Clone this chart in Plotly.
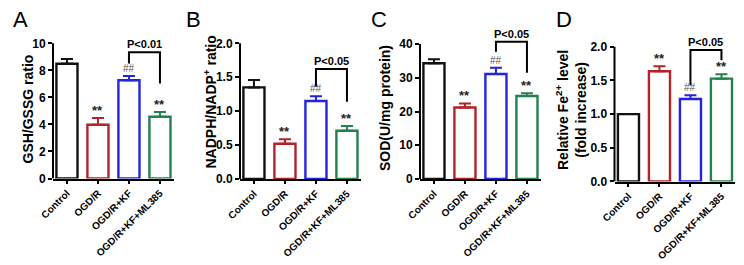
import plotly.graph_objects as go

W, H = 744, 265

categories = ["Control", "OGD/R", "OGD/R+KF", "OGD/R+KF+ML385"]
bar_colors = ["#111111", "#B3232B", "#2323E0", "#23804F"]
sig_marks = ["", "**", "##", "**"]

gsh_mean = [8.49, 3.97, 7.27, 4.57]
gsh_err = [0.34, 0.50, 0.32, 0.34]
nadph_mean = [1.35, 0.52, 1.15, 0.71]
nadph_err = [0.11, 0.065, 0.07, 0.07]
sod_mean = [34.3, 21.2, 31.1, 24.6]
sod_err = [1.2, 1.2, 1.9, 0.8]
fe_mean = [1.0, 1.635, 1.225, 1.526]
fe_err = [0.0, 0.075, 0.055, 0.064]

# bracket: [level, left drop end, right drop end]
gsh_bracket = [9.33, 8.51, 7.02]
nadph_bracket = [1.62, 1.36, 1.14]
sod_bracket = [40.7, 37.7, 31.5]
fe_bracket = [1.95, 1.43, 1.80]
p_labels = ["P<0.01", "P<0.05", "P<0.05", "P<0.05"]

y_titles = ["GSH/GSSG ratio", "NADPH/NADP<sup>+</sup> ratio", "SOD(U/mg protein)",
            "Relative Fe<sup>2+</sup> level<br>(fold increase)"]
y_ticks = [[0, 2, 4, 6, 8, 10], [0.0, 0.5, 1.0, 1.5, 2.0], [0, 10, 20, 30, 40], [0.0, 0.5, 1.0, 1.5, 2.0]]
y_fmt = ["d", ".1f", "d", ".1f"]
letters = ["A", "B", "C", "D"]

panels = [
    (gsh_mean, gsh_err, gsh_bracket),
    (nadph_mean, nadph_err, nadph_bracket),
    (sod_mean, sod_err, sod_bracket),
    (fe_mean, fe_err, fe_bracket),
]

# layout geometry (pixels)
axis_x_px = [53, 240, 420, 614.5]
y0_px = [178.5, 179, 179, 181.5]
ymax_px = [43.3, 43.3, 44, 46.7]
letter_x_px = [20, 193, 379, 564]
title_x_px = [27.5, 210, 385, 571]
title_y_px = [109, 102.5, 108, 110]
cat_px = 31.0
xr = [-0.45, 3.45]
top_factor = 1.08

FONT = "Liberation Sans, Arial, sans-serif"
fig = go.Figure()
shapes, annotations = [], []
layout = {}

for i, (mean, err, br) in enumerate(panels):
    n = "" if i == 0 else str(i + 1)
    xa, ya = "x" + n, "y" + n
    ymax = y_ticks[i][-1]
    for j, cat in enumerate(categories):
        fig.add_trace(go.Bar(
            x=[cat], y=[mean[j]], width=0.68, xaxis=xa, yaxis=ya,
            marker=dict(color="white", line=dict(color=bar_colors[j], width=2.4)),
            error_y=dict(type="data", symmetric=False, array=[err[j]], arrayminus=[0],
                         color=bar_colors[j], thickness=2, width=6, visible=err[j] > 0),
            showlegend=False, hoverinfo="skip"))
        if sig_marks[j]:
            is_star = sig_marks[j] == "**"
            annotations.append(dict(x=cat, y=mean[j] + err[j], xref=xa, yref=ya, text=sig_marks[j],
                                    showarrow=False, yanchor="bottom", yshift=-2 if is_star else 0,
                                    font=dict(family=FONT, size=13 if is_star else 10,
                                              color="#222222" if is_star else "#555555",
                                              weight="bold" if is_star else "normal")))
    # bracket between KF and KF+ML385
    fig.add_trace(go.Scatter(
        x=[categories[2], categories[2], categories[3], categories[3]],
        y=[br[1], br[0], br[0], br[2]], mode="lines", xaxis=xa, yaxis=ya,
        line=dict(color="black", width=2), showlegend=False, hoverinfo="skip"))
    annotations.append(dict(x=2.5, y=br[0], xref=xa, yref=ya, text=p_labels[i], showarrow=False,
                            yanchor="bottom", yshift=0,
                            font=dict(family=FONT, size=11, color="black", weight="bold")))
    # y axis line up to max tick
    shapes.append(dict(type="line", xref=xa + " domain", yref=ya, x0=0, x1=0, y0=0, y1=ymax,
                       line=dict(color="black", width=2)))
    # domains
    ppu = (y0_px[i] - ymax_px[i]) / ymax
    top_px = y0_px[i] - ppu * ymax * top_factor
    xd0 = axis_x_px[i] / W
    xd1 = (axis_x_px[i] + cat_px * (xr[1] - xr[0])) / W
    yd0 = (H - y0_px[i]) / H
    yd1 = (H - top_px) / H
    layout["xaxis" + n] = dict(domain=[xd0, xd1], anchor=ya, type="category", range=xr,
                               automargin=False,
                               showline=True, linewidth=2, linecolor="black", ticks="outside",
                               ticklen=3, tickwidth=1.5, tickcolor="black", tickangle=-45,
                               showgrid=False, zeroline=False,
                               tickfont=dict(family=FONT, size=10, color="black", weight="bold"))
    layout["yaxis" + n] = dict(domain=[yd0, yd1], anchor=xa, range=[0, ymax * top_factor],
                               automargin=False,
                               showline=False, ticks="outside", ticklen=4, tickwidth=2,
                               tickcolor="black", tickvals=y_ticks[i], tickformat=y_fmt[i],
                               showgrid=False, zeroline=False,
                               tickfont=dict(family=FONT, size=12, color="black", weight="bold"))
    # y-axis title
    annotations.append(dict(x=title_x_px[i] / W, y=(H - title_y_px[i]) / H, xref="paper", yref="paper",
                            text=y_titles[i], showarrow=False, textangle=-90,
                            xanchor="center", yanchor="middle",
                            font=dict(family=FONT, size=14, color="black", weight="bold")))
    annotations.append(dict(x=letter_x_px[i] / W, y=(H - 19.5) / H, xref="paper", yref="paper",
                            text=letters[i], showarrow=False, xanchor="center", yanchor="middle",
                            font=dict(family=FONT, size=22, color="black")))

fig.update_layout(width=W, height=H, margin=dict(l=0, r=0, t=0, b=0),
                  paper_bgcolor="white", plot_bgcolor="white", barmode="overlay",
                  shapes=shapes, annotations=annotations, **layout)

fig.write_html("out.html", config={"displayModeBar": False},
               post_script="document.body.style.margin='0';document.body.style.overflow='hidden';")
